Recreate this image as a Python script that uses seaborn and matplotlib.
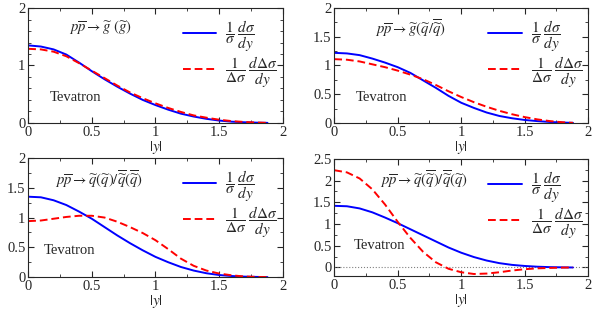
import numpy as np
import pandas as pd
import matplotlib
matplotlib.use("Agg")
import matplotlib.pyplot as plt
import seaborn as sns
from matplotlib.ticker import MultipleLocator, FormatStrFormatter

# rapidity grid (|y|)
y_grid = [0.0, 0.1, 0.2, 0.3, 0.4, 0.5, 0.6, 0.7, 0.8, 0.9, 1.0,
          1.1, 1.2, 1.3, 1.4, 1.5, 1.6, 1.7, 1.8, 1.88]

# gluino (gluino)
gg_unpol = [1.35, 1.33, 1.28, 1.19, 1.05, 0.90, 0.76, 0.63, 0.51, 0.40, 0.31,
            0.23, 0.16, 0.11, 0.07, 0.04, 0.02, 0.01, 0.003, 0.0]
gg_pol = [1.29, 1.28, 1.24, 1.16, 1.04, 0.91, 0.78, 0.65, 0.53, 0.43, 0.34,
          0.26, 0.19, 0.13, 0.09, 0.055, 0.03, 0.015, 0.005, 0.0]

# gluino (squark / antisquark)
gq_unpol = [1.22, 1.21, 1.18, 1.12, 1.05, 0.97, 0.87, 0.74, 0.61, 0.47, 0.35,
            0.26, 0.18, 0.12, 0.08, 0.05, 0.03, 0.015, 0.005, 0.0]
gq_pol = [1.11, 1.10, 1.07, 1.02, 0.97, 0.91, 0.84, 0.76, 0.66, 0.55, 0.45,
          0.36, 0.28, 0.21, 0.15, 0.10, 0.06, 0.03, 0.01, 0.0]

# squark (squark) / antisquark (antisquark)
qq_unpol = [1.35, 1.34, 1.29, 1.21, 1.10, 0.98, 0.84, 0.70, 0.57, 0.45, 0.34,
            0.25, 0.17, 0.11, 0.065, 0.035, 0.018, 0.008, 0.003, 0.0]
qq_pol = [0.94, 0.95, 0.98, 1.01, 1.03, 1.03, 1.00, 0.93, 0.84, 0.74, 0.62,
          0.47, 0.31, 0.19, 0.11, 0.06, 0.03, 0.01, 0.003, 0.0]

# squark (antisquark) / antisquark (squark)
qqb_unpol = [1.42, 1.41, 1.36, 1.27, 1.15, 1.02, 0.88, 0.74, 0.60, 0.46, 0.34,
             0.24, 0.16, 0.10, 0.06, 0.035, 0.018, 0.008, 0.003, 0.0]
qqb_pol = [2.24, 2.19, 2.05, 1.80, 1.45, 1.05, 0.68, 0.36, 0.12, -0.03, -0.11,
           -0.15, -0.14, -0.11, -0.07, -0.04, -0.02, -0.01, -0.003, 0.0]

titles = [r"$p\overline{p}\rightarrow\widetilde{g}\ (\widetilde{g})$",
          r"$p\overline{p}\rightarrow\widetilde{g}(\widetilde{q}/\overline{\widetilde{q}})$",
          r"$p\overline{p}\rightarrow\widetilde{q}(\widetilde{q})/\overline{\widetilde{q}}(\overline{\widetilde{q}})$",
          r"$p\overline{p}\rightarrow\widetilde{q}(\overline{\widetilde{q}})/\overline{\widetilde{q}}(\widetilde{q})$"]

sns.set_style("ticks")
plt.rcParams["font.family"] = ["Liberation Serif", "DejaVu Serif"]
plt.rcParams["mathtext.fontset"] = "stix"
plt.rcParams["font.size"] = 9

fig = plt.figure(figsize=(5.99, 3.11), dpi=100)
rects = [[0.047, 0.605, 0.425, 0.369],
         [0.558, 0.605, 0.424, 0.369],
         [0.047, 0.109, 0.425, 0.383],
         [0.558, 0.112, 0.424, 0.377]]
panels = [(gg_unpol, gg_pol), (gq_unpol, gq_pol),
          (qq_unpol, qq_pol), (qqb_unpol, qqb_pol)]
ylims = [(0, 2), (0, 2), (0, 2), (-0.2, 2.5)]
ymajor = [1, 0.5, 0.5, 0.5]
yminor = [0.2, 0.25, 0.25, 0.25]
title_pos = [(0.32, 1.65), (0.32, 1.65), (0.21, 1.65), (0.36, 2.03)]
tev_pos = [(0.17, 0.45), (0.17, 0.45), (0.12, 0.45), (0.15, 0.5)]
leg_anchor = [(0.98, 0.91), (0.98, 0.91), (0.98, 0.91), (0.98, 0.91)]

lab_u = r"$\dfrac{1}{\sigma}\;\dfrac{d\sigma}{dy}$"
lab_p = r"$\dfrac{1}{\Delta\sigma}\;\dfrac{d\Delta\sigma}{dy}$"

for i, (unpol, pol) in enumerate(panels):
    ax = fig.add_axes(rects[i])
    df = pd.DataFrame({"y": y_grid, "unpol": unpol, "pol": pol})
    if i == 3:
        ax.axhline(0, color="gray", lw=0.8, ls=":")
    sns.lineplot(data=df, x="y", y="unpol", ax=ax, color="#0000ff", lw=1.4, label=lab_u)
    sns.lineplot(data=df, x="y", y="pol", ax=ax, color="#ff0000", lw=1.4,
                 ls=(0, (4, 2)), label=lab_p)
    ax.set_xlim(0, 2)
    ax.set_ylim(*ylims[i])
    ax.xaxis.set_major_locator(MultipleLocator(0.5))
    ax.xaxis.set_minor_locator(MultipleLocator(0.25))
    ax.yaxis.set_major_locator(MultipleLocator(ymajor[i]))
    ax.yaxis.set_minor_locator(MultipleLocator(yminor[i]))
    ax.xaxis.set_major_formatter(FormatStrFormatter("%g"))
    ax.yaxis.set_major_formatter(FormatStrFormatter("%g"))
    ax.tick_params(which="both", direction="in", top=True, right=True, labelsize=10.5, pad=2)
    ax.tick_params(which="major", length=4)
    ax.tick_params(which="minor", length=2.5)
    for s in ax.spines.values():
        s.set_linewidth(0.8)
    ax.set_xlabel(r"$|y|$", fontsize=11, labelpad=0)
    ax.set_ylabel("")
    ax.text(*title_pos[i], titles[i], fontsize=10.5, ha="left", va="center")
    ax.text(*tev_pos[i], "Tevatron", fontsize=10.5, ha="left", va="center")
    ax.legend(loc="upper right", bbox_to_anchor=leg_anchor[i], frameon=False,
              fontsize=11, handlelength=2.2, handletextpad=0.6, labelspacing=0.0,
              borderaxespad=0.0, borderpad=0.0)

fig.savefig("out.png", dpi=100)
